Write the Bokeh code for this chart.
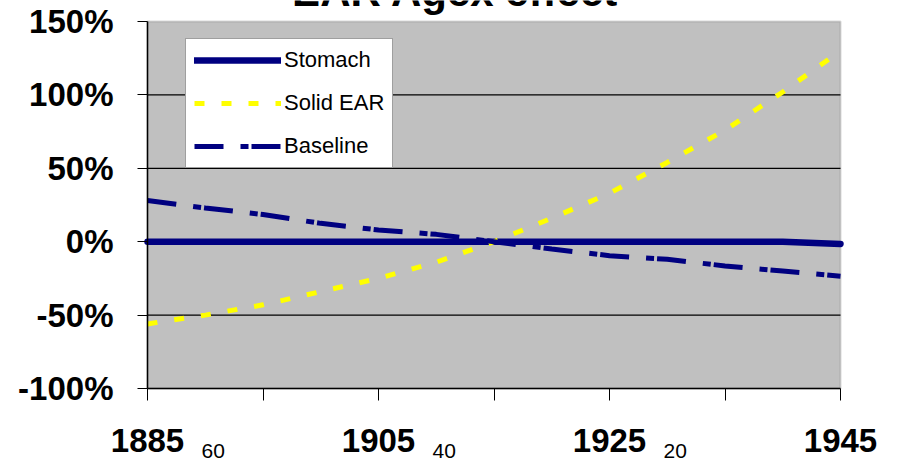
from bokeh.plotting import figure
from bokeh.models import (Range1d, FixedTicker, Label, Legend, LegendItem,
                          NumeralTickFormatter, ColumnDataSource, BoxAnnotation)
from bokeh.embed import file_html
from bokeh.resources import INLINE

# --- data -------------------------------------------------------------
years = [1885, 1890, 1895, 1900, 1905, 1910, 1915, 1920, 1925, 1930, 1935, 1940, 1945]
stomach = [0, 0, 0, 0, 0, 0, 0, 0, 0, 0, 0, 0, -1.5]
solid_ear = [-56, -50, -43, -34, -25, -14, 0, 16, 33, 54, 76, 102, 130]
baseline = [28, 23, 18.5, 12.5, 8, 5, 0, -5, -9.5, -12, -16.5, -20, -23.5]

x_ticks = [1885, 1895, 1905, 1915, 1925, 1935, 1945]
x_tick_labels = {1885: "1885", 1895: "", 1905: "1905", 1915: "",
                 1925: "1925", 1935: "", 1945: "1945"}
age_years = [1885, 1905, 1925]
age_labels = ["60", "40", "20"]
y_ticks = [-100, -50, 0, 50, 100, 150]
grid_levels = [-50, 0, 50, 100]
title_text = "EAR Agex effect"

# percent values -> fractions for the percent formatter
src = ColumnDataSource(data=dict(
    year=years,
    stomach=[v / 100 for v in stomach],
    solid=[v / 100 for v in solid_ear],
    base=[v / 100 for v in baseline],
))

FONT = "Liberation Sans"
NAVY = "#000080"
W, H = 898, 466
X0, X1 = 1885, 1945
Y0, Y1 = -1.0, 1.5
# The frame fills the whole page; the shaded plot area sits inside it,
# with the axes pinned to its edges, leaving room for titles and labels.
PLOT_LEFT, PLOT_RIGHT = 147, 840
PLOT_TOP, PLOT_BOTTOM = 21, 388
px_per_year = (PLOT_RIGHT - PLOT_LEFT) / (X1 - X0)
px_per_unit = (PLOT_BOTTOM - PLOT_TOP) / (Y1 - Y0)
x_lo = X0 - PLOT_LEFT / px_per_year
x_hi = X1 + (W - PLOT_RIGHT) / px_per_year
y_lo = Y0 - (H - PLOT_BOTTOM) / px_per_unit
y_hi = Y1 + PLOT_TOP / px_per_unit

p = figure(width=W, height=H, output_backend="svg", toolbar_location=None,
           x_range=Range1d(x_lo, x_hi), y_range=Range1d(y_lo, y_hi),
           min_border_left=0, min_border_right=0,
           min_border_top=0, min_border_bottom=0)

p.background_fill_color = "white"
p.border_fill_color = "white"
p.outline_line_color = None
p.xgrid.visible = False
p.ygrid.visible = False

# shaded plot area with its grey outline
p.add_layout(BoxAnnotation(left=X0, right=X1, bottom=Y0, top=Y1,
                           fill_color="#C0C0C0", fill_alpha=1.0,
                           line_color="#808080", line_width=2,
                           level="image"))

# black horizontal rules across the shaded area only
p.segment(x0=[X0] * len(grid_levels), x1=[X1] * len(grid_levels),
          y0=[g / 100 for g in grid_levels], y1=[g / 100 for g in grid_levels],
          line_color="black", line_width=1.2)

# x axis, pinned to the bottom of the shaded area
p.xaxis.fixed_location = Y0
p.xaxis.bounds = (X0, X1)
p.xaxis.ticker = FixedTicker(ticks=x_ticks)
p.xaxis.major_label_overrides = x_tick_labels
p.xaxis.major_label_text_font = FONT
p.xaxis.major_label_text_font_style = "bold"
p.xaxis.major_label_text_font_size = "33px"
p.xaxis.major_label_text_color = "black"
p.xaxis.major_label_standoff = 28
p.xaxis.major_tick_out = 12
p.xaxis.major_tick_in = 0
p.xaxis.minor_tick_out = 0
p.xaxis.minor_tick_in = 0
p.xaxis.axis_line_color = "black"
p.xaxis.axis_line_width = 1.5
p.xaxis.major_tick_line_color = "black"

# y axis, pinned to the left of the shaded area
p.yaxis.fixed_location = X0
p.yaxis.bounds = (Y0, Y1)
p.yaxis.ticker = FixedTicker(ticks=[t / 100 for t in y_ticks])
p.yaxis.formatter = NumeralTickFormatter(format="0%")
p.yaxis.major_label_text_font = FONT
p.yaxis.major_label_text_font_style = "bold"
p.yaxis.major_label_text_font_size = "33px"
p.yaxis.major_label_text_color = "black"
p.yaxis.major_label_standoff = 24
p.yaxis.major_tick_out = 10
p.yaxis.major_tick_in = 0
p.yaxis.minor_tick_out = 0
p.yaxis.minor_tick_in = 0
p.yaxis.axis_line_color = "black"
p.yaxis.axis_line_width = 1.5
p.yaxis.major_tick_line_color = "black"

# series
r_stomach = p.line("year", "stomach", source=src, line_color=NAVY,
                   line_width=6.5, line_cap="round")
r_solid = p.line("year", "solid", source=src, line_color="#FFFF00",
                 line_width=5, line_dash="10 17")
r_base = p.line("year", "base", source=src, line_color=NAVY,
                line_width=5, line_dash="29 17 8 3")

legend = Legend(items=[
    LegendItem(label="Stomach", renderers=[r_stomach]),
    LegendItem(label="Solid EAR", renderers=[r_solid]),
    LegendItem(label="Baseline", renderers=[r_base]),
], location=(PLOT_LEFT + 38, H - 168))
legend.label_text_font = FONT
legend.label_text_font_size = "22px"
legend.label_text_color = "black"
legend.glyph_width = 87
legend.glyph_height = 24
legend.label_height = 24
legend.label_standoff = 3
legend.spacing = 17
legend.padding = 8
legend.margin = 0
legend.border_line_color = "#404040"
legend.border_line_width = 1.5
legend.background_fill_color = "white"
legend.background_fill_alpha = 1.0
p.add_layout(legend)

# chart title, running off the top edge of the page
p.add_layout(Label(x=455, y=H + 9, x_units="screen", y_units="screen",
                   text=title_text, text_font=FONT, text_font_style="bold",
                   text_font_size="42px", text_align="center",
                   text_baseline="alphabetic", text_color="black"))

# age labels beside the year labels
for yr, age in zip(age_years, age_labels):
    p.add_layout(Label(x=yr, y=H - 450, x_units="data", y_units="screen",
                       x_offset=54, text=age, text_font=FONT,
                       text_font_size="21px", text_align="left",
                       text_baseline="alphabetic", text_color="black"))

open("out.html", "w").write(file_html(p, INLINE))
